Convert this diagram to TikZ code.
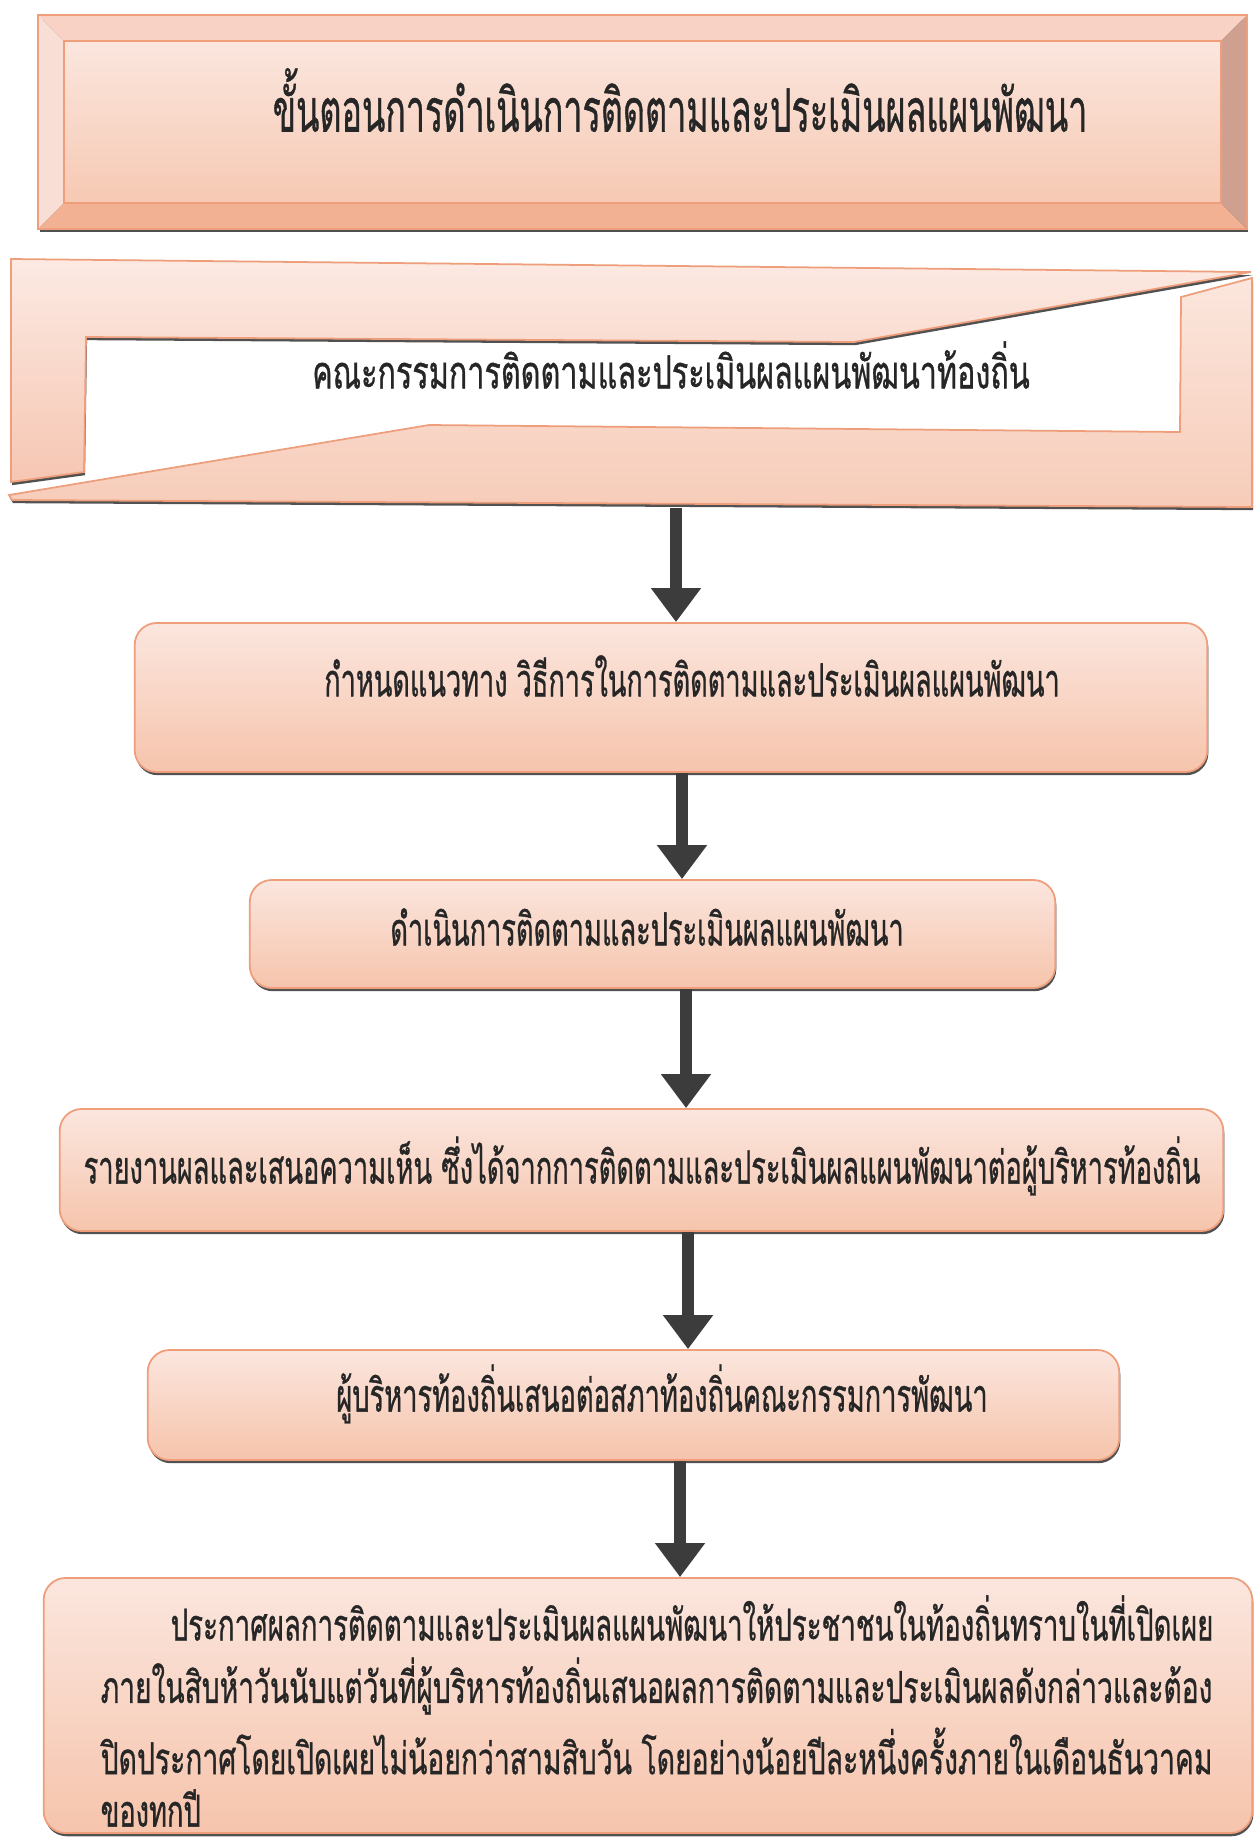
\documentclass[tikz,border=0pt]{standalone}
\usepackage{fontspec}
\newfontfamily\thai[Script=Thai,FakeBold=1]{Loma}
\usetikzlibrary{arrows.meta,shadows}
\definecolor{edgeor}{HTML}{EF9E7C}
\definecolor{boxtop}{HTML}{FBE6DE}
\definecolor{boxbot}{HTML}{F6C4AC}
\definecolor{bvtop}{HTML}{F8D3C5}
\definecolor{bvleft}{HTML}{F9DED5}
\definecolor{bvbot}{HTML}{F2B192}
\definecolor{bvright}{HTML}{CFA090}
\definecolor{facebot}{HTML}{F6C9B3}
\definecolor{ribAtop}{HTML}{FCEAE3}
\definecolor{ribAbot}{HTML}{F6C6B2}
\definecolor{ribBtop}{HTML}{FBE6DD}
\definecolor{ribBbot}{HTML}{F7CCB9}
\definecolor{arrgray}{HTML}{3C3C3C}
\definecolor{txt}{HTML}{262626}
\newcommand{\fitw}[2]{\resizebox{#1}{\height}{#2}}
\begin{document}
\begin{tikzpicture}[x=0.01cm,y=-0.01cm,
  shad/.style={drop shadow={shadow xshift=0.3pt,shadow yshift=-0.9pt,fill=black!80,opacity=0.85}},
  box/.style={draw=edgeor,line width=0.5pt,rounded corners=0.22cm,top color=boxtop,bottom color=boxbot,shad,inner sep=0pt},
  lbl/.style={inner sep=0pt,text=txt,font=\thai\fontsize{13pt}{15pt}\selectfont},
  lblsm/.style={inner sep=0pt,text=txt,anchor=west,font=\thai\fontsize{12.5pt}{15pt}\selectfont},
  arr/.style={draw=arrgray,line width=0.12cm,-{Triangle[width=0.48cm,length=0.34cm]}}]
\useasboundingbox (0,0) rectangle (1257,1838);
\fill[white] (0,0) rectangle (1257,1838);

% ---- title bevelled box
\fill[black!80,opacity=0.85] (40,20) rectangle (1248,232);
\fill[bvtop] (38,15) -- (1247,15) -- (1221,41) -- (64,41) -- cycle;
\fill[bvleft] (38,15) -- (64,41) -- (64,203) -- (38,229) -- cycle;
\fill[bvbot] (38,229) -- (64,203) -- (1221,203) -- (1247,229) -- cycle;
\fill[bvright] (1247,15) -- (1247,229) -- (1221,203) -- (1221,41) -- cycle;
\shade[top color=boxtop,bottom color=facebot] (64,41) rectangle (1221,203);
\draw[edgeor,line width=0.5pt] (38,15) rectangle (1247,229);
\draw[edgeor,line width=0.4pt] (64,41) rectangle (1221,203);
\node[lbl,font=\thai\fontsize{17pt}{20pt}\selectfont] (title) at (680,100) {\fitw{8.14cm}{ขั้นตอนการดำเนินการติดตามและประเมินผลแผนพัฒนา}};

% ---- committee ribbon
\path[draw=edgeor,line width=0.5pt,top color=ribAtop,bottom color=ribAbot,shad]
  (11,259) -- (1251,272) -- (854,342) -- (86,337) -- (84,472) -- (11,482) -- cycle;
\path[draw=edgeor,line width=0.5pt,top color=ribBtop,bottom color=ribBbot,shad]
  (9,495) -- (429,425) -- (1180,432) -- (1181,297) -- (1252,278) -- (1252,507) -- (12,500) -- cycle;
\node[lbl] (comm) at (671,365) {\fitw{7.17cm}{คณะกรรมการติดตามและประเมินผลแผนพัฒนาท้องถิ่น}};
\coordinate (c0) at (676,508);

% ---- flow boxes
\node[box,minimum width=10.72cm,minimum height=1.49cm] (b1) at (671,697.5) {};
\node[lbl] (t1) at (692,676) {\fitw{7.35cm}{กำหนดแนวทาง วิธีการในการติดตามและประเมินผลแผนพัฒนา}};

\node[box,minimum width=8.05cm,minimum height=1.08cm] (b2) at (652.5,934) {};
\node[lbl] (t2) at (647,927) {\fitw{5.13cm}{ดำเนินการติดตามและประเมินผลแผนพัฒนา}};

\node[box,minimum width=11.63cm,minimum height=1.22cm] (b3) at (641.5,1170) {};
\node[lbl] (t3) at (642,1166) {\fitw{11.16cm}{รายงานผลและเสนอความเห็น ซึ่งได้จากการติดตามและประเมินผลแผนพัฒนาต่อผู้บริหารท้องถิ่น}};

\node[box,minimum width=9.71cm,minimum height=1.10cm] (b4) at (633.5,1405) {};
\node[lbl] (t4) at (662,1394) {\fitw{6.51cm}{ผู้บริหารท้องถิ่นเสนอต่อสภาท้องถิ่นคณะกรรมการพัฒนา}};

\node[box,minimum width=12.08cm,minimum height=2.55cm] (b5) at (648,1705.5) {};
\node[lblsm] (l1) at (170,1618) {\fitw{10.42cm}{ประกาศผลการติดตามและประเมินผลแผนพัฒนาให้ประชาชนในท้องถิ่นทราบในที่เปิดเผย}};
\node[lblsm] (l2) at (100,1686) {\fitw{11.11cm}{ภายในสิบห้าวันนับแต่วันที่ผู้บริหารท้องถิ่นเสนอผลการติดตามและประเมินผลดังกล่าวและต้อง}};
\node[lblsm] (l3) at (100,1751) {\fitw{11.11cm}{ปิดประกาศโดยเปิดเผยไม่น้อยกว่าสามสิบวัน โดยอย่างน้อยปีละหนึ่งครั้งภายในเดือนธันวาคม}};
\node[lblsm] (l4) at (100,1808) {\fitw{1.0cm}{ของทกปี}};

% ---- arrows
\draw[arr] (c0) -- (c0 |- b1.north);
\draw[arr] ([xshift=0.11cm]b1.south) -- ([xshift=0.11cm]b1.south |- b2.north);
\draw[arr] ([xshift=0.335cm]b2.south) -- ([xshift=0.335cm]b2.south |- b3.north);
\draw[arr] ([xshift=0.465cm]b3.south) -- ([xshift=0.465cm]b3.south |- b4.north);
\draw[arr] ([xshift=0.465cm]b4.south) -- ([xshift=0.465cm]b4.south |- b5.north);
\end{tikzpicture}
\end{document}
